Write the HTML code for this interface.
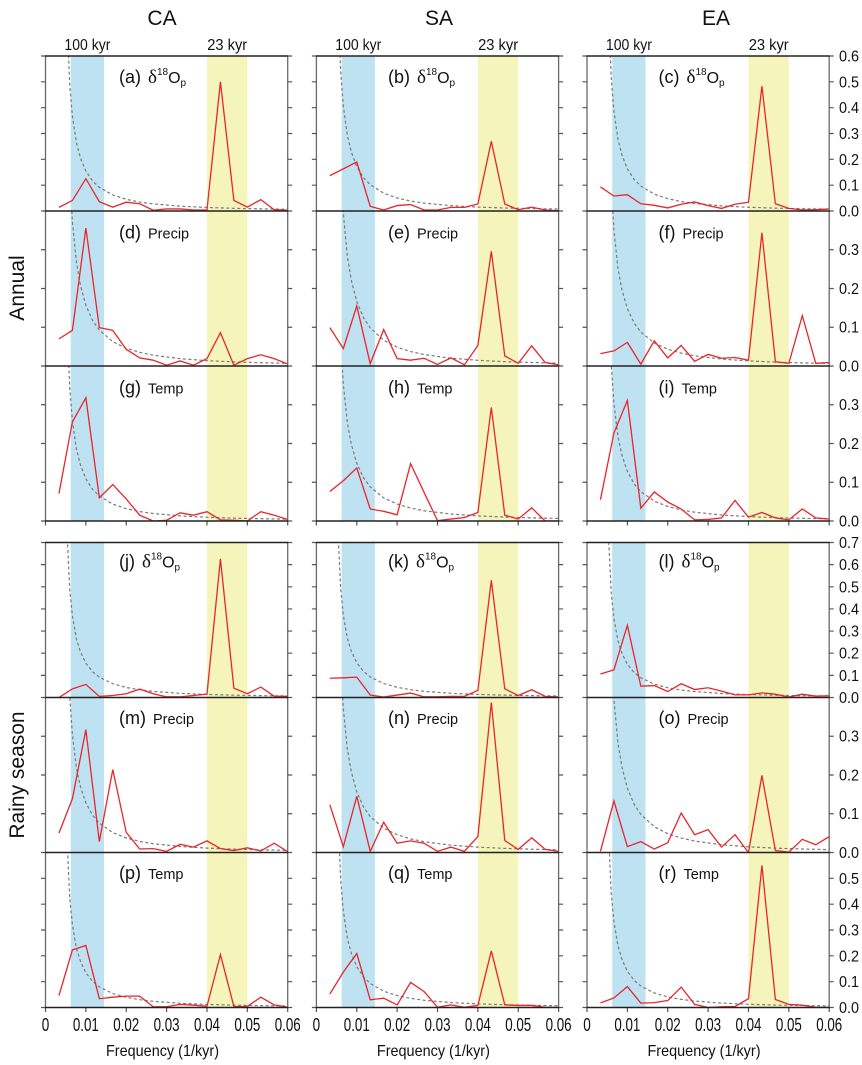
<!DOCTYPE html>
<html>
<head>
<meta charset="utf-8">
<style>
  html,body{margin:0;padding:0;background:#fff;}
  svg{display:block;}
  text{font-family:"Liberation Sans",Arial,sans-serif;fill:#111;}
  .r{fill:none;stroke:#e8262a;stroke-width:1.3;vector-effect:non-scaling-stroke;stroke-linejoin:miter;}
  .ttl{font-size:21px;text-anchor:middle;}
  .kyr{font-size:16px;text-anchor:middle;}
  .pl{font-size:18px;}
  .dl{font-family:"Liberation Serif","DejaVu Serif",serif;font-size:19px;}
  .sm{font-size:10px;}
  .oo{font-size:16px;}
  .nm{font-size:14.5px;}
  .xl{font-size:18px;text-anchor:middle;}
  .yl{font-size:16px;}
  .fq{font-size:16px;text-anchor:middle;}
</style>
</head>
<body>
<svg width="862" height="1065" viewBox="0 0 862 1065" xmlns="http://www.w3.org/2000/svg">
<defs>
  <polyline id="dc" points="1,5.14 1.2,2.09 1.5,0.837 1.8,0.466 2,0.351 2.3,0.252 2.6,0.196 3,0.148 3.5,0.111 4,0.0876 5,0.0593 6,0.0433 7,0.0332 8,0.0263 10,0.0179 12,0.0131 14,0.01 16,0.008 18,0.0065" fill="none" stroke="#7a7a7a" stroke-width="1.2" stroke-dasharray="3 2.5" vector-effect="non-scaling-stroke"/>
  <g id="bd">
    <rect x="25.23" y="56" width="33.3" height="465" fill="#bfe2f2"/>
    <rect x="25.23" y="542.5" width="33.3" height="465" fill="#bfe2f2"/>
    <rect x="161.47" y="56" width="40.36" height="465" fill="#f4f4bb"/>
    <rect x="161.47" y="542.5" width="40.36" height="465" fill="#f4f4bb"/>
  </g>
  <g id="ax">
    <path d="M0,56V521M242.2,56V521M0,542.5V1007.5M242.2,542.5V1007.5" stroke="#6a6a6a" stroke-width="1.3" fill="none"/>
    <path fill="none" stroke="#555" stroke-width="1.2" d="
M-4.5,56H0M242.2,56H246.7
M-4.5,81.83H0M242.2,81.83H246.7
M-4.5,107.67H0M242.2,107.67H246.7
M-4.5,133.5H0M242.2,133.5H246.7
M-4.5,159.33H0M242.2,159.33H246.7
M-4.5,185.17H0M242.2,185.17H246.7
M-4.5,211H0M242.2,211H246.7
M-4.5,249.75H0M242.2,249.75H246.7
M-4.5,288.5H0M242.2,288.5H246.7
M-4.5,327.25H0M242.2,327.25H246.7
M-4.5,366H0M242.2,366H246.7
M-4.5,404.75H0M242.2,404.75H246.7
M-4.5,443.5H0M242.2,443.5H246.7
M-4.5,482.25H0M242.2,482.25H246.7
M-4.5,521H0M242.2,521H246.7
M-4.5,542.5H0M242.2,542.5H246.7
M-4.5,564.64H0M242.2,564.64H246.7
M-4.5,586.79H0M242.2,586.79H246.7
M-4.5,608.93H0M242.2,608.93H246.7
M-4.5,631.07H0M242.2,631.07H246.7
M-4.5,653.21H0M242.2,653.21H246.7
M-4.5,675.36H0M242.2,675.36H246.7
M-4.5,697.5H0M242.2,697.5H246.7
M-4.5,736.25H0M242.2,736.25H246.7
M-4.5,775H0M242.2,775H246.7
M-4.5,813.75H0M242.2,813.75H246.7
M-4.5,852.5H0M242.2,852.5H246.7
M-4.5,878.33H0M242.2,878.33H246.7
M-4.5,904.17H0M242.2,904.17H246.7
M-4.5,930H0M242.2,930H246.7
M-4.5,955.83H0M242.2,955.83H246.7
M-4.5,981.67H0M242.2,981.67H246.7
M-4.5,1007.5H0M242.2,1007.5H246.7
M0,521V525.5M40.37,521V525.5M80.73,521V525.5M121.1,521V525.5M161.47,521V525.5M201.83,521V525.5M242.2,521V525.5
M0,1007.5V1012M40.37,1007.5V1012M80.73,1007.5V1012M121.1,1007.5V1012M161.47,1007.5V1012M201.83,1007.5V1012M242.2,1007.5V1012"/>
    <path d="M-0.5,56H242.7M-0.5,211H242.7M-0.5,366H242.7M-0.5,521H242.7M-0.5,542.5H242.7M-0.5,697.5H242.7M-0.5,852.5H242.7M-0.5,1007.5H242.7" stroke="#222" stroke-width="1.6" fill="none"/>
  </g>
</defs>

<!-- bands -->
<use href="#bd" x="45.5"/>
<use href="#bd" x="316.4"/>
<use href="#bd" x="587"/>

<!-- ===== CA column ===== -->
<svg x="45.5" y="56" width="242.2" height="155">
  <g transform="translate(0,155) scale(13.456,-270)"><use href="#dc"/></g>
  <g transform="translate(0,155) scale(13.456,-258.33)"><polyline class="r" points="1,0.014 2,0.041 3,0.125 4,0.036 5,0.015 6,0.034 7,0.028 8,0.003 9,0.008 10,0.008 11,0.004 12,0.004 13,0.5 14,0.041 15,0.015 16,0.044 17,0.005 18,0.003"/></g>
</svg>
<svg x="45.5" y="211" width="242.2" height="155">
  <g transform="translate(0,155) scale(13.456,-410)"><use href="#dc"/></g>
  <g transform="translate(0,155) scale(13.456,-387.5)"><polyline class="r" points="1,0.07 2,0.092 3,0.356 4,0.099 5,0.092 6,0.043 7,0.021 8,0.015 9,0.002 10,0.013 11,0.002 12,0.019 13,0.086 14,0.002 15,0.019 16,0.029 17,0.019 18,0.005"/></g>
</svg>
<svg x="45.5" y="366" width="242.2" height="155">
  <g transform="translate(0,155) scale(13.456,-285)"><use href="#dc"/></g>
  <g transform="translate(0,155) scale(13.456,-387.5)"><polyline class="r" points="1,0.071 2,0.256 3,0.318 4,0.06 5,0.094 6,0.057 7,0.015 8,0 9,0.002 10,0.021 11,0.015 12,0.024 13,0.003 14,0.002 15,0 16,0.024 17,0.015 18,0.004"/></g>
</svg>
<svg x="45.5" y="542.5" width="242.2" height="155">
  <g transform="translate(0,155) scale(13.456,-232)"><use href="#dc"/></g>
  <g transform="translate(0,155) scale(13.456,-221.43)"><polyline class="r" points="1,0 2,0.039 3,0.059 4,0.005 5,0.009 6,0.017 7,0.038 8,0.017 9,0.003 10,0.003 11,0.009 12,0.015 13,0.626 14,0.042 15,0.017 16,0.047 17,0.006 18,0.005"/></g>
</svg>
<svg x="45.5" y="697.5" width="242.2" height="155">
  <g transform="translate(0,155) scale(13.456,-335)"><use href="#dc"/></g>
  <g transform="translate(0,155) scale(13.456,-387.5)"><polyline class="r" points="1,0.05 2,0.139 3,0.317 4,0.028 5,0.214 6,0.052 7,0.009 8,0.01 9,0.003 10,0.021 11,0.014 12,0.03 13,0.01 14,0.005 15,0.012 16,0.004 17,0.024 18,0.002"/></g>
</svg>
<svg x="45.5" y="852.5" width="242.2" height="155">
  <g transform="translate(0,155) scale(13.456,-235)"><use href="#dc"/></g>
  <g transform="translate(0,155) scale(13.456,-258.33)"><polyline class="r" points="1,0.046 2,0.223 3,0.24 4,0.034 5,0.04 6,0.044 7,0.044 8,0.003 9,0.003 10,0.012 11,0.009 12,0.005 13,0.205 14,0.004 15,0.004 16,0.04 17,0.01 18,0.001"/></g>
</svg>

<!-- ===== SA column ===== -->
<svg x="316.4" y="56" width="242.2" height="155">
  <g transform="translate(0,155) scale(13.456,-300)"><use href="#dc"/></g>
  <g transform="translate(0,155) scale(13.456,-258.33)"><polyline class="r" points="1,0.137 2,0.163 3,0.19 4,0.018 5,0.004 6,0.021 7,0.025 8,0.004 9,0.004 10,0.014 11,0.014 12,0.027 13,0.27 14,0.027 15,0.005 16,0.015 17,0.004 18,0.001"/></g>
</svg>
<svg x="316.4" y="211" width="242.2" height="155">
  <g transform="translate(0,155) scale(13.456,-435)"><use href="#dc"/></g>
  <g transform="translate(0,155) scale(13.456,-387.5)"><polyline class="r" points="1,0.099 2,0.045 3,0.155 4,0.006 5,0.094 6,0.019 7,0.015 8,0.02 9,0.004 10,0.021 11,0.003 12,0.053 13,0.296 14,0.026 15,0.007 16,0.052 17,0.009 18,0.003"/></g>
</svg>
<svg x="316.4" y="366" width="242.2" height="155">
  <g transform="translate(0,155) scale(13.456,-390)"><use href="#dc"/></g>
  <g transform="translate(0,155) scale(13.456,-387.5)"><polyline class="r" points="1,0.076 2,0.104 3,0.137 4,0.031 5,0.025 6,0.016 7,0.148 8,0.074 9,0.001 10,0.005 11,0.009 12,0.022 13,0.293 14,0.015 15,0.005 16,0.034 17,0 18,0"/></g>
</svg>
<svg x="316.4" y="542.5" width="242.2" height="155">
  <g transform="translate(0,155) scale(13.456,-235)"><use href="#dc"/></g>
  <g transform="translate(0,155) scale(13.456,-221.43)"><polyline class="r" points="1,0.087 2,0.089 3,0.092 4,0.011 5,0.002 6,0.011 7,0.02 8,0.003 9,0.003 10,0.005 11,0.005 12,0.032 13,0.529 14,0.039 15,0.009 16,0.035 17,0.005 18,0.002"/></g>
</svg>
<svg x="316.4" y="697.5" width="242.2" height="155">
  <g transform="translate(0,155) scale(13.456,-410)"><use href="#dc"/></g>
  <g transform="translate(0,155) scale(13.456,-387.5)"><polyline class="r" points="1,0.123 2,0.015 3,0.145 4,0.003 5,0.078 6,0.024 7,0.03 8,0.024 9,0.003 10,0.014 11,0.003 12,0.041 13,0.387 14,0.031 15,0.008 16,0.038 17,0.008 18,0.003"/></g>
</svg>
<svg x="316.4" y="852.5" width="242.2" height="155">
  <g transform="translate(0,155) scale(13.456,-275)"><use href="#dc"/></g>
  <g transform="translate(0,155) scale(13.456,-258.33)"><polyline class="r" points="1,0.052 2,0.137 3,0.209 4,0.03 5,0.036 6,0.01 7,0.097 8,0.062 9,0.001 10,0.01 11,0.001 12,0.008 13,0.219 14,0.01 15,0.008 16,0.008 17,0.001 18,0"/></g>
</svg>

<!-- ===== EA column ===== -->
<svg x="587" y="56" width="242.2" height="155">
  <g transform="translate(0,155) scale(13.456,-285)"><use href="#dc"/></g>
  <g transform="translate(0,155) scale(13.456,-258.33)"><polyline class="r" points="1,0.093 2,0.058 3,0.063 4,0.028 5,0.022 6,0.012 7,0.026 8,0.035 9,0.021 10,0.01 11,0.026 12,0.034 13,0.483 14,0.028 15,0.01 16,0.004 17,0.005 18,0.008"/></g>
</svg>
<svg x="587" y="211" width="242.2" height="155">
  <g transform="translate(0,155) scale(13.456,-387.5)"><use href="#dc"/></g>
  <g transform="translate(0,155) scale(13.456,-387.5)"><polyline class="r" points="1,0.032 2,0.039 3,0.061 4,0.005 5,0.065 6,0.021 7,0.053 8,0.012 9,0.03 10,0.02 11,0.022 12,0.015 13,0.344 14,0.011 15,0.007 16,0.13 17,0.007 18,0.009"/></g>
</svg>
<svg x="587" y="366" width="242.2" height="155">
  <g transform="translate(0,155) scale(13.456,-335)"><use href="#dc"/></g>
  <g transform="translate(0,155) scale(13.456,-387.5)"><polyline class="r" points="1,0.055 2,0.227 3,0.311 4,0.033 5,0.075 6,0.049 7,0.031 8,0.003 9,0.004 10,0.008 11,0.053 12,0.01 13,0.022 14,0.008 15,0.003 16,0.031 17,0.008 18,0.005"/></g>
</svg>
<svg x="587" y="542.5" width="242.2" height="155">
  <g transform="translate(0,155) scale(13.456,-225)"><use href="#dc"/></g>
  <g transform="translate(0,155) scale(13.456,-221.43)"><polyline class="r" points="1,0.106 2,0.125 3,0.326 4,0.051 5,0.054 6,0.027 7,0.062 8,0.036 9,0.044 10,0.029 11,0.012 12,0.012 13,0.021 14,0.015 15,0.002 16,0.015 17,0.006 18,0.008"/></g>
</svg>
<svg x="587" y="697.5" width="242.2" height="155">
  <g transform="translate(0,155) scale(13.456,-435)"><use href="#dc"/></g>
  <g transform="translate(0,155) scale(13.456,-387.5)"><polyline class="r" points="1,0.003 2,0.133 3,0.015 4,0.028 5,0.009 6,0.025 7,0.102 8,0.046 9,0.059 10,0.014 11,0.046 12,0 13,0.199 14,0.005 15,0.001 16,0.034 17,0.02 18,0.041"/></g>
</svg>
<svg x="587" y="852.5" width="242.2" height="155">
  <g transform="translate(0,155) scale(13.456,-245)"><use href="#dc"/></g>
  <g transform="translate(0,155) scale(13.456,-258.33)"><polyline class="r" points="1,0.018 2,0.037 3,0.081 4,0.017 5,0.019 6,0.027 7,0.079 8,0.012 9,0 10,0.003 11,0.004 12,0.034 13,0.55 14,0.031 15,0.012 16,0.009 17,0.001 18,0"/></g>
</svg>

<!-- axes -->
<use href="#ax" x="45.5"/>
<use href="#ax" x="316.4"/>
<use href="#ax" x="587"/>

<!-- column titles -->
<text class="ttl" x="162" y="25">CA</text>
<text class="ttl" x="439" y="25">SA</text>
<text class="ttl" x="716" y="25">EA</text>

<!-- band labels -->
<text class="kyr" x="87.4" y="50" textLength="46" lengthAdjust="spacingAndGlyphs">100 kyr</text>
<text class="kyr" x="227.2" y="50" textLength="40" lengthAdjust="spacingAndGlyphs">23 kyr</text>
<text class="kyr" x="358.3" y="50" textLength="46" lengthAdjust="spacingAndGlyphs">100 kyr</text>
<text class="kyr" x="498.1" y="50" textLength="40" lengthAdjust="spacingAndGlyphs">23 kyr</text>
<text class="kyr" x="628.9" y="50" textLength="46" lengthAdjust="spacingAndGlyphs">100 kyr</text>
<text class="kyr" x="768.7" y="50" textLength="40" lengthAdjust="spacingAndGlyphs">23 kyr</text>

<!-- row labels -->
<text class="ttl" transform="translate(24,288) rotate(-90)">Annual</text>
<text class="ttl" transform="translate(24,775) rotate(-90)">Rainy season</text>

<!-- panel labels: CA -->
<text class="pl" x="119" y="83">(a)<tspan class="dl" dx="7">δ</tspan><tspan class="sm" dy="-8">18</tspan><tspan class="oo" dy="8">O</tspan><tspan class="sm" dy="3">p</tspan></text>
<text class="pl" x="119" y="238.5">(d)<tspan class="nm" dx="7">Precip</tspan></text>
<text class="pl" x="119" y="393.5">(g)<tspan class="nm" dx="7">Temp</tspan></text>
<text class="pl" x="119" y="567.5">(j)<tspan class="dl" dx="7">δ</tspan><tspan class="sm" dy="-8">18</tspan><tspan class="oo" dy="8">O</tspan><tspan class="sm" dy="3">p</tspan></text>
<text class="pl" x="119" y="724">(m)<tspan class="nm" dx="7">Precip</tspan></text>
<text class="pl" x="119" y="879">(p)<tspan class="nm" dx="7">Temp</tspan></text>

<!-- panel labels: SA -->
<text class="pl" x="388" y="83">(b)<tspan class="dl" dx="7">δ</tspan><tspan class="sm" dy="-8">18</tspan><tspan class="oo" dy="8">O</tspan><tspan class="sm" dy="3">p</tspan></text>
<text class="pl" x="388" y="238.5">(e)<tspan class="nm" dx="7">Precip</tspan></text>
<text class="pl" x="388" y="393.5">(h)<tspan class="nm" dx="7">Temp</tspan></text>
<text class="pl" x="388" y="567.5">(k)<tspan class="dl" dx="7">δ</tspan><tspan class="sm" dy="-8">18</tspan><tspan class="oo" dy="8">O</tspan><tspan class="sm" dy="3">p</tspan></text>
<text class="pl" x="388" y="724">(n)<tspan class="nm" dx="7">Precip</tspan></text>
<text class="pl" x="388" y="879">(q)<tspan class="nm" dx="7">Temp</tspan></text>

<!-- panel labels: EA -->
<text class="pl" x="658.5" y="83">(c)<tspan class="dl" dx="7">δ</tspan><tspan class="sm" dy="-8">18</tspan><tspan class="oo" dy="8">O</tspan><tspan class="sm" dy="3">p</tspan></text>
<text class="pl" x="658.5" y="238.5">(f)<tspan class="nm" dx="7">Precip</tspan></text>
<text class="pl" x="658.5" y="393.5">(i)<tspan class="nm" dx="7">Temp</tspan></text>
<text class="pl" x="658.5" y="567.5">(l)<tspan class="dl" dx="7">δ</tspan><tspan class="sm" dy="-8">18</tspan><tspan class="oo" dy="8">O</tspan><tspan class="sm" dy="3">p</tspan></text>
<text class="pl" x="658.5" y="724">(o)<tspan class="nm" dx="7">Precip</tspan></text>
<text class="pl" x="658.5" y="879">(r)<tspan class="nm" dx="7">Temp</tspan></text>

<!-- right axis labels (EA) -->
<g class="yl">
<text x="839" y="61.5" textLength="20" lengthAdjust="spacingAndGlyphs">0.6</text>
<text x="839" y="87.3" textLength="20" lengthAdjust="spacingAndGlyphs">0.5</text>
<text x="839" y="113.2" textLength="20" lengthAdjust="spacingAndGlyphs">0.4</text>
<text x="839" y="139" textLength="20" lengthAdjust="spacingAndGlyphs">0.3</text>
<text x="839" y="164.8" textLength="20" lengthAdjust="spacingAndGlyphs">0.2</text>
<text x="839" y="190.7" textLength="20" lengthAdjust="spacingAndGlyphs">0.1</text>
<text x="839" y="216.5" textLength="20" lengthAdjust="spacingAndGlyphs">0.0</text>
<text x="839" y="255.2" textLength="20" lengthAdjust="spacingAndGlyphs">0.3</text>
<text x="839" y="294" textLength="20" lengthAdjust="spacingAndGlyphs">0.2</text>
<text x="839" y="332.7" textLength="20" lengthAdjust="spacingAndGlyphs">0.1</text>
<text x="839" y="371.5" textLength="20" lengthAdjust="spacingAndGlyphs">0.0</text>
<text x="839" y="410.2" textLength="20" lengthAdjust="spacingAndGlyphs">0.3</text>
<text x="839" y="449" textLength="20" lengthAdjust="spacingAndGlyphs">0.2</text>
<text x="839" y="487.7" textLength="20" lengthAdjust="spacingAndGlyphs">0.1</text>
<text x="839" y="526.5" textLength="20" lengthAdjust="spacingAndGlyphs">0.0</text>
<text x="839" y="548" textLength="20" lengthAdjust="spacingAndGlyphs">0.7</text>
<text x="839" y="570.1" textLength="20" lengthAdjust="spacingAndGlyphs">0.6</text>
<text x="839" y="592.3" textLength="20" lengthAdjust="spacingAndGlyphs">0.5</text>
<text x="839" y="614.4" textLength="20" lengthAdjust="spacingAndGlyphs">0.4</text>
<text x="839" y="636.6" textLength="20" lengthAdjust="spacingAndGlyphs">0.3</text>
<text x="839" y="658.7" textLength="20" lengthAdjust="spacingAndGlyphs">0.2</text>
<text x="839" y="680.9" textLength="20" lengthAdjust="spacingAndGlyphs">0.1</text>
<text x="839" y="703" textLength="20" lengthAdjust="spacingAndGlyphs">0.0</text>
<text x="839" y="741.7" textLength="20" lengthAdjust="spacingAndGlyphs">0.3</text>
<text x="839" y="780.5" textLength="20" lengthAdjust="spacingAndGlyphs">0.2</text>
<text x="839" y="819.2" textLength="20" lengthAdjust="spacingAndGlyphs">0.1</text>
<text x="839" y="858" textLength="20" lengthAdjust="spacingAndGlyphs">0.0</text>
<text x="839" y="883.8" textLength="20" lengthAdjust="spacingAndGlyphs">0.5</text>
<text x="839" y="909.7" textLength="20" lengthAdjust="spacingAndGlyphs">0.4</text>
<text x="839" y="935.5" textLength="20" lengthAdjust="spacingAndGlyphs">0.3</text>
<text x="839" y="961.3" textLength="20" lengthAdjust="spacingAndGlyphs">0.2</text>
<text x="839" y="987.2" textLength="20" lengthAdjust="spacingAndGlyphs">0.1</text>
<text x="839" y="1013" textLength="20" lengthAdjust="spacingAndGlyphs">0.0</text>
</g>

<!-- x tick labels -->
<g class="xl">
<text x="45.5" y="1031" textLength="7.5" lengthAdjust="spacingAndGlyphs">0</text>
<text x="85.87" y="1031" textLength="26" lengthAdjust="spacingAndGlyphs">0.01</text>
<text x="126.23" y="1031" textLength="26" lengthAdjust="spacingAndGlyphs">0.02</text>
<text x="166.6" y="1031" textLength="26" lengthAdjust="spacingAndGlyphs">0.03</text>
<text x="206.97" y="1031" textLength="26" lengthAdjust="spacingAndGlyphs">0.04</text>
<text x="247.33" y="1031" textLength="26" lengthAdjust="spacingAndGlyphs">0.05</text>
<text x="287.7" y="1031" textLength="26" lengthAdjust="spacingAndGlyphs">0.06</text>

<text x="316.4" y="1031" textLength="7.5" lengthAdjust="spacingAndGlyphs">0</text>
<text x="356.77" y="1031" textLength="26" lengthAdjust="spacingAndGlyphs">0.01</text>
<text x="397.13" y="1031" textLength="26" lengthAdjust="spacingAndGlyphs">0.02</text>
<text x="437.5" y="1031" textLength="26" lengthAdjust="spacingAndGlyphs">0.03</text>
<text x="477.87" y="1031" textLength="26" lengthAdjust="spacingAndGlyphs">0.04</text>
<text x="518.23" y="1031" textLength="26" lengthAdjust="spacingAndGlyphs">0.05</text>
<text x="558.6" y="1031" textLength="26" lengthAdjust="spacingAndGlyphs">0.06</text>

<text x="587" y="1031" textLength="7.5" lengthAdjust="spacingAndGlyphs">0</text>
<text x="627.37" y="1031" textLength="26" lengthAdjust="spacingAndGlyphs">0.01</text>
<text x="667.73" y="1031" textLength="26" lengthAdjust="spacingAndGlyphs">0.02</text>
<text x="708.1" y="1031" textLength="26" lengthAdjust="spacingAndGlyphs">0.03</text>
<text x="748.47" y="1031" textLength="26" lengthAdjust="spacingAndGlyphs">0.04</text>
<text x="788.83" y="1031" textLength="26" lengthAdjust="spacingAndGlyphs">0.05</text>
<text x="829.2" y="1031" textLength="26" lengthAdjust="spacingAndGlyphs">0.06</text>
</g>

<!-- x axis titles -->
<text class="fq" x="162.5" y="1056" textLength="113" lengthAdjust="spacingAndGlyphs">Frequency (1/kyr)</text>
<text class="fq" x="433.4" y="1056" textLength="113" lengthAdjust="spacingAndGlyphs">Frequency (1/kyr)</text>
<text class="fq" x="704" y="1056" textLength="113" lengthAdjust="spacingAndGlyphs">Frequency (1/kyr)</text>
</svg>
</body>
</html>
